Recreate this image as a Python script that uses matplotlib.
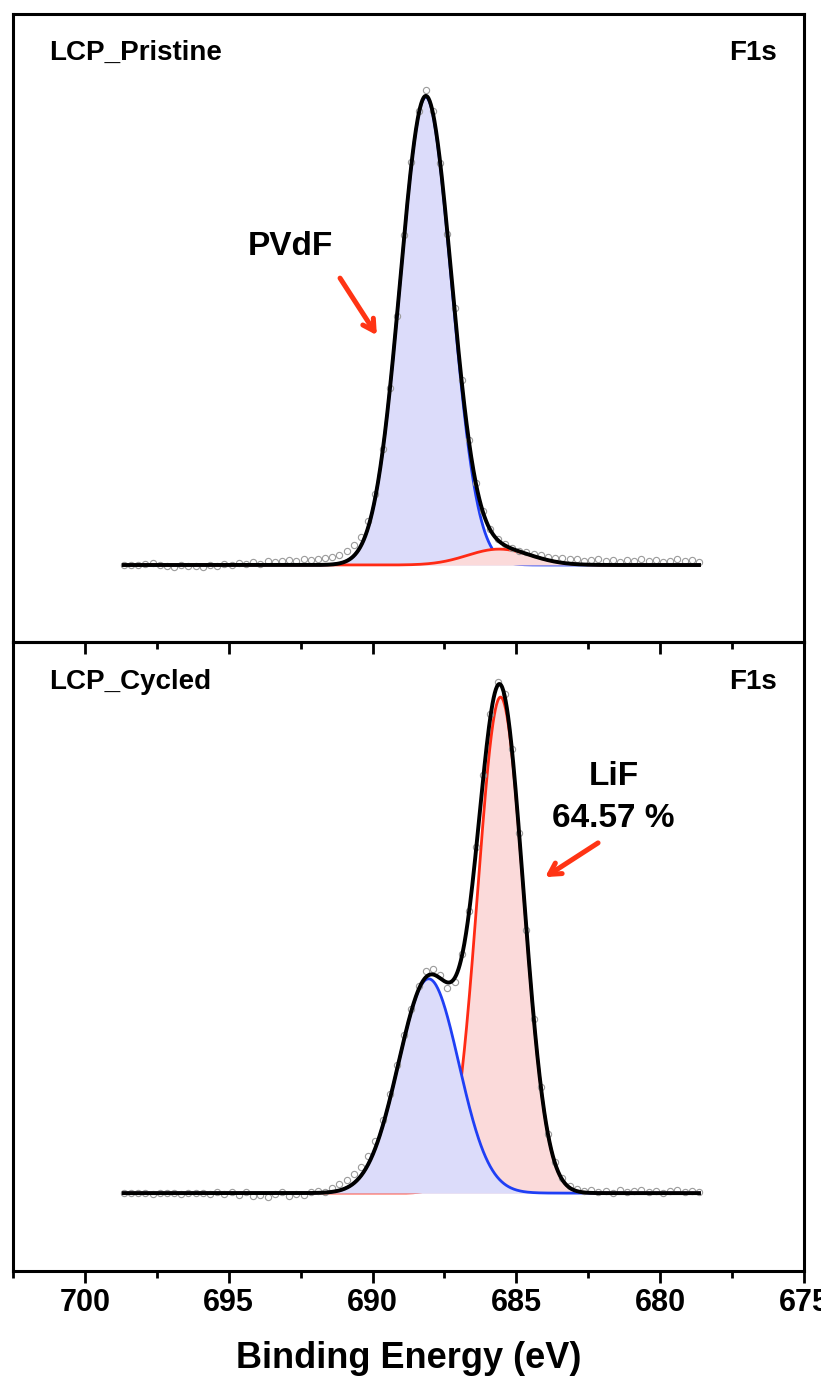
import numpy as np
import matplotlib
matplotlib.use('Agg')
import matplotlib.pyplot as plt
from matplotlib.ticker import MultipleLocator

plt.rcParams['font.family'] = ['Liberation Sans', 'DejaVu Sans']
plt.rcParams['font.weight'] = 'bold'

# energy scale of the measured points (eV), 0.25 eV step
be = np.linspace(698.65, 678.65, 81)

# raw F1s spectra, normalised counts
pristine_counts = [
    0.000, 0.001, -0.001, 0.002, 0.004, 0.001, -0.003, -0.004, 0.000, -0.003,
    -0.002, -0.004, 0.001, -0.002, 0.003, 0.000, 0.004, 0.002, 0.006, 0.003,
    0.008, 0.006, 0.009, 0.010, 0.009, 0.012, 0.011, 0.012, 0.014, 0.017,
    0.022, 0.030, 0.042, 0.060, 0.094, 0.152, 0.248, 0.378, 0.532, 0.706,
    0.862, 0.970, 1.015, 0.970, 0.858, 0.708, 0.550, 0.396, 0.268, 0.176,
    0.116, 0.078, 0.056, 0.044, 0.037, 0.031, 0.027, 0.024, 0.021, 0.018,
    0.015, 0.016, 0.012, 0.013, 0.009, 0.010, 0.012, 0.008, 0.011, 0.007,
    0.010, 0.008, 0.012, 0.009, 0.011, 0.006, 0.009, 0.012, 0.008, 0.010,
    0.007,
]
cycled_counts = [
    0.000, 0.000, 0.001, 0.000, -0.001, 0.001, 0.000, 0.001, -0.001, 0.000,
    0.001, 0.000, -0.001, 0.002, -0.002, 0.003, -0.004, 0.002, -0.006, -0.003,
    -0.007, -0.002, 0.003, -0.005, -0.002, -0.004, 0.002, 0.005, 0.003, 0.010,
    0.018, 0.026, 0.038, 0.052, 0.075, 0.105, 0.148, 0.200, 0.258, 0.318,
    0.372, 0.418, 0.447, 0.452, 0.440, 0.414, 0.426, 0.482, 0.568, 0.698,
    0.842, 0.965, 1.030, 1.006, 0.896, 0.725, 0.531, 0.352, 0.214, 0.120,
    0.062, 0.030, 0.015, 0.008, 0.004, 0.006, 0.003, 0.005, 0.001, 0.006,
    0.002, 0.004, 0.007, 0.002, 0.005, 0.001, 0.004, 0.006, 0.002, 0.005,
    0.003,
]

# fitted components: PVdF (blue) and LiF (red)
pristine_centers = [688.15, 685.6]
pristine_fwhm = [2.1, 2.6]
pristine_heights = [1.0, 0.034]

cycled_centers = [688.05, 685.55]
cycled_fwhm = [2.47, 1.88]
cycled_heights = [0.432, 1.0]

line_colors = ['#1f3ff5', '#ff2a14']
fill_colors = ['#dcdcfa', '#fbdada']


def gauss(x, c, w, h):
    return h * np.exp(-4 * np.log(2) * (x - c) ** 2 / w ** 2)


def draw_panel(ax, counts, centers, fwhms, heights, order):
    xfit = np.linspace(be[0], be[-1], 1001)
    comps = [gauss(xfit, c, w, h) for c, w, h in zip(centers, fwhms, heights)]
    z = 1
    for i in order:
        ax.fill_between(xfit, 0, comps[i], color=fill_colors[i], lw=0, zorder=z)
        ax.plot(xfit, comps[i], color=line_colors[i], lw=2.0, zorder=z + 0.5)
        z += 1
    ax.plot(be, counts, 'o', mfc='none', mec='#9b9b9b', ms=4.5, mew=0.8, zorder=5)
    ax.plot(xfit, np.sum(comps, axis=0), color='k', lw=2.8, zorder=6)


fig = plt.figure(figsize=(8.21, 13.89), dpi=100)
W, H = 821, 1389
ax_top = fig.add_axes([13 / W, 1 - 642 / H, 791 / W, 628 / H])
ax_bot = fig.add_axes([13 / W, 1 - 1271 / H, 791 / W, 629 / H])

draw_panel(ax_top, pristine_counts, pristine_centers, pristine_fwhm, pristine_heights, [0, 1])
draw_panel(ax_bot, cycled_counts, cycled_centers, cycled_fwhm, cycled_heights, [1, 0])

ax_top.set_ylim(-0.1645, 1.1774)
ax_bot.set_ylim(-0.157, 1.111)

for ax in (ax_top, ax_bot):
    ax.set_xlim(702.5, 675)
    ax.xaxis.set_major_locator(MultipleLocator(5))
    ax.xaxis.set_minor_locator(MultipleLocator(2.5))
    ax.tick_params(axis='x', which='major', direction='out', length=8.5, width=2,
                   labelsize=22, pad=4)
    ax.tick_params(axis='x', which='minor', direction='out', length=5, width=2)
    ax.tick_params(axis='y', left=False, labelleft=False)
    for s in ax.spines.values():
        s.set_linewidth(2.2)

ax_top.tick_params(axis='x', labelbottom=False)
ax_bot.patch.set_visible(False)
for lab in ax_bot.get_xticklabels():
    lab.set_fontweight('bold')

ax_bot.set_xlabel('Binding Energy (eV)', fontsize=26, fontweight='bold', labelpad=16)

# panel labels
ax_top.text(0.0457, 0.9268, 'LCP_Pristine', transform=ax_top.transAxes,
            fontsize=20, fontweight='bold', va='baseline')
ax_top.text(0.9657, 0.9268, 'F1s', transform=ax_top.transAxes,
            fontsize=20, fontweight='bold', va='baseline', ha='right')
ax_bot.text(0.0457, 0.925, 'LCP_Cycled', transform=ax_bot.transAxes,
            fontsize=20, fontweight='bold', va='baseline')
ax_bot.text(0.9657, 0.925, 'F1s', transform=ax_bot.transAxes,
            fontsize=20, fontweight='bold', va='baseline', ha='right')

arrow = dict(arrowstyle='->,head_length=0.8,head_width=0.45', color='#ff3414',
             lw=3.6, shrinkA=0, shrinkB=0)

ax_top.text(692.87, 0.662, 'PVdF', fontsize=24, fontweight='bold',
            ha='center', va='baseline')
ax_top.annotate('', xy=(689.85, 0.491), xytext=(691.13, 0.613), arrowprops=arrow)

ax_bot.text(681.6, 0.823, 'LiF', fontsize=24, fontweight='bold',
            ha='center', va='baseline')
ax_bot.text(681.64, 0.738, '64.57 %', fontsize=24, fontweight='bold',
            ha='center', va='baseline')
ax_bot.annotate('', xy=(684.0, 0.637), xytext=(682.16, 0.706), arrowprops=arrow)

fig.savefig('out.png', dpi=100)
